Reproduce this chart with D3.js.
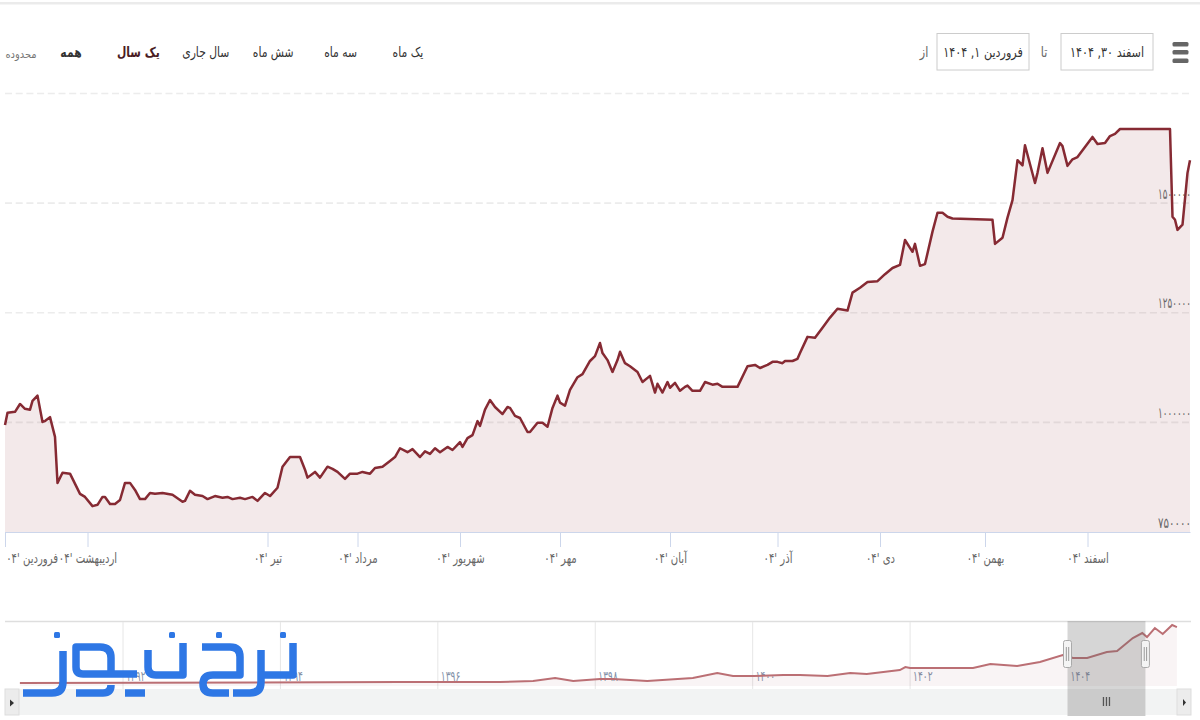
<!DOCTYPE html>
<html>
<head>
<meta charset="utf-8">
<script src="https://cdn.jsdelivr.net/npm/d3@7"></script>
<style>
html, body { margin: 0; padding: 0; background: #fff; overflow: hidden; }
text { font-family: "DejaVu Sans", sans-serif; }
.month text { fill: #666; font-size: 14px; }
.price text { fill: #666; font-size: 15px; }
.btn { font-size: 14px; fill: #333; }
</style>
</head>
<body>
<script>
// sessions along the main axis (ordinal, so not calendar days)
const sessions = [0,1,4,6,8,10,11,13,15,16,18,20,21,23,26,30,32,35,37,39,40,42,44,46,48,50,52,54,56,58,60,63,67,71,72,74,76,79,81,84,87,89,91,94,96,99,101,104,106,109,111,114,118,120,121,124,126,129,131,133,136,138,141,143,146,148,151,154,156,158,161,163,166,168,170,172,174,177,179,182,183,185,187,189,190,192,194,196,199,201,202,204,206,209,210,213,215,217,219,221,222,224,226,227,229,231,234,236,238,239,241,243,245,246,248,250,253,255,258,260,261,263,265,266,268,270,272,273,275,278,280,283,285,287,293,297,300,302,305,307,309,311,312,315,317,318,321,324,327,330,333,337,339,342,345,349,352,355,358,360,363,364,366,368,371,373,375,377,379,395,396,399,401,403,405,407,408,412,413,415,417,422,423,425,427,429,435,437,440,442,444,446,466,467,468,469,471,473,474];
// price in thousands
const prices = [994,1022,1024,1042,1031,1029,1049,1061,1001,1003,1012,967,862,885,883,837,830,809,812,830,830,814,814,823,862,862,846,825,825,839,837,839,835,819,821,844,835,832,825,832,828,830,825,828,825,830,821,839,832,851,899,921,921,892,874,887,874,899,894,887,871,883,883,887,883,896,899,912,921,941,932,939,921,934,928,941,932,944,937,955,944,964,971,1003,992,1029,1051,1035,1019,1035,1033,1015,1010,978,978,999,999,990,1033,1061,1045,1038,1074,1084,1103,1110,1140,1151,1181,1158,1142,1115,1142,1161,1135,1128,1115,1092,1106,1068,1088,1068,1092,1079,1090,1072,1081,1084,1072,1072,1092,1086,1088,1081,1081,1128,1131,1124,1131,1138,1138,1135,1140,1140,1145,1158,1195,1193,1216,1239,1259,1255,1296,1307,1320,1322,1338,1352,1359,1416,1389,1407,1357,1361,1435,1478,1478,1469,1465,1462,1407,1421,1467,1507,1598,1586,1632,1546,1569,1625,1569,1637,1630,1585,1600,1605,1651,1635,1637,1653,1658,1669,1669,1469,1462,1439,1451,1569,1598];

const monthTicks = [0,33,105,141,182,222,266,309,350,392,433];
const monthLabels = ["فروردین '۰۴","اردیبهشت '۰۴","تیر '۰۴","مرداد '۰۴","شهریور '۰۴","مهر '۰۴","آبان '۰۴","آذر '۰۴","دی '۰۴","بهمن '۰۴","اسفند '۰۴"];
const priceTicks = [750,1000,1250,1500];
const priceLabels = ["۷۵۰۰۰۰","۱۰۰۰۰۰۰","۱۲۵۰۰۰۰","۱۵۰۰۰۰۰"];
const gridTicks = [1000,1250,1500,1750];

// navigator, whole history
const navYears = [1390.69,1395.52,1396.79,1397.21,1397.49,1397.72,1398.06,1398.23,1398.66,1399.24,1399.55,1399.75,1400.01,1400.39,1400.6,1400.95,1401.24,1401.45,1401.87,1401.94,1402,1402.42,1402.8,1403.02,1403.36,1403.65,1403.94,1404.07,1404.25,1404.5,1404.63,1404.83,1404.95,1405.01,1405.11,1405.21,1405.33,1405.39];
const navPrices = [372,394,394,417,484,417,461,461,417,484,596,529,529,551,551,529,596,574,663,730,708,708,708,797,753,842,999,932,932,1066,1089,1380,1492,1402,1604,1470,1671,1626];
const navTicks = [1392,1394,1396,1398,1400,1402,1404];
const navLabels = ["۱۳۹۲","۱۳۹۴","۱۳۹۶","۱۳۹۸","۱۴۰۰","۱۴۰۲","۱۴۰۴"];

const rangeButtons = ["یک ماه","سه ماه","شش ماه","سال جاری","یک سال","همه"];
const selectedYears = [1404, 1404.99];

const svg = d3.select('body').append('svg')
    .attr('width', 1200)
    .attr('height', 720)
    .style('display', 'block');

const x = d3.scaleLinear().domain([0, 474]).range([5, 1190]);
const y = d3.scaleLinear().domain([750, 1750]).range([532, 93.5]);
const navX = d3.scaleLinear().domain([1392, 1404]).range([123, 1067.5]);
const navY = d3.scaleLinear().domain([0, 1672]).range([699.6, 625]);
const points = sessions.map((s, i) => [s, prices[i]]);
const navPoints = navYears.map((s, i) => [s, navPrices[i]]);

// the lettering in the image is tall and narrow
function squeeze(sel, factor) {
    sel.each(function() {
        const ax = +this.getAttribute('x') || 0;
        d3.select(this).attr('transform', `translate(${ax * (1 - factor)},0) scale(${factor},1)`);
    });
}

svg.append('rect').attr('x', 0).attr('y', 2).attr('width', 1200).attr('height', 2.5).attr('fill', '#ebebeb');

// grid first, the area is see through
svg.selectAll('.grid').data(gridTicks).enter().append('line')
    .attr('class', 'grid')
    .attr('x1', 5).attr('x2', 1190)
    .attr('y1', d => y(d)).attr('y2', d => y(d))
    .attr('stroke', '#ececec')
    .attr('stroke-width', 1.6)
    .attr('stroke-dasharray', '7,3.7');

svg.append('path').datum(points)
    .attr('fill', 'rgba(139,38,53,0.1)')
    .attr('d', d3.area().x(d => x(d[0])).y0(y(750)).y1(d => y(d[1])));
svg.append('path').datum(points)
    .attr('fill', 'none')
    .attr('stroke', '#862a33')
    .attr('stroke-width', 2.5)
    .attr('stroke-linejoin', 'round')
    .attr('d', d3.line().x(d => x(d[0])).y(d => y(d[1])));

// month axis
const xAxis = svg.append('g')
    .attr('class', 'month')
    .attr('transform', `translate(0,${y(750)})`)
    .call(d3.axisBottom(x).tickValues(monthTicks).tickFormat((d, i) => monthLabels[i]).tickSize(15).tickSizeOuter(0));
xAxis.selectAll('line, path').attr('stroke', '#ccd6eb');
xAxis.selectAll('text').attr('x', 0).attr('y', 31).attr('dy', 0).attr('direction', 'rtl').call(squeeze, 0.72);
xAxis.select('.tick text').attr('text-anchor', 'end').attr('dx', 1);

// price labels sit above their grid line
const yAxis = svg.append('g')
    .attr('class', 'price')
    .attr('transform', 'translate(1191,0)')
    .call(d3.axisLeft(y).tickValues(priceTicks).tickFormat((d, i) => priceLabels[i]).tickSize(0));
yAxis.select('.domain').remove();
yAxis.selectAll('text').attr('x', 0).attr('y', -5).attr('dy', 0).attr('text-anchor', 'end')
    .each(function() {
        d3.select(this).attr('transform', `scale(${33 / this.getComputedTextLength()},1)`);
    });

// range selector
const buttonX = d3.scalePoint().domain(rangeButtons).range([408, 71]);
svg.selectAll('.btn').data(rangeButtons).enter().append('text')
    .attr('class', 'btn')
    .attr('x', d => buttonX(d))
    .attr('y', 57)
    .attr('text-anchor', 'middle')
    .attr('font-weight', d => (d == "یک سال" || d == "همه") ? 'bold' : 'normal')
    .style('fill', d => d == "یک سال" ? '#4a1c24' : '#333')
    .text(d => d)
    .call(squeeze, 0.77);
svg.append('text').text('محدوده').attr('x', 21).attr('y', 58).attr('text-anchor', 'middle').attr('font-size', 11).attr('fill', '#777').call(squeeze, 0.9);

// date inputs
function dateBox(left, label) {
    svg.append('rect').attr('x', left).attr('y', 33.5).attr('width', 92).attr('height', 36.5)
        .attr('fill', '#fff').attr('stroke', '#ccc');
    svg.append('text').text(label).attr('x', left + 46).attr('y', 57).attr('text-anchor', 'middle')
        .attr('direction', 'rtl').attr('font-size', 14).attr('fill', '#333').call(squeeze, 0.8);
}
dateBox(1061, 'اسفند ۳۰, ۱۴۰۴');
dateBox(937, 'فروردین ۱, ۱۴۰۴');
svg.append('text').text('تا').attr('x', 1044).attr('y', 57).attr('text-anchor', 'middle').attr('font-size', 14).attr('fill', '#666').call(squeeze, 0.8);
svg.append('text').text('از').attr('x', 924).attr('y', 57).attr('text-anchor', 'middle').attr('font-size', 14).attr('fill', '#666').call(squeeze, 0.8);

// menu icon
[42, 50, 58.5].forEach(t => {
    svg.append('rect').attr('x', 1172.5).attr('y', t).attr('width', 16).attr('height', 4.5).attr('rx', 1.5).attr('fill', '#666');
});

// navigator
svg.append('rect').attr('x', 5).attr('y', 689).attr('width', 1186).attr('height', 26).attr('fill', '#f2f3f3');
svg.append('line').attr('x1', 5).attr('x2', 1191).attr('y1', 621.5).attr('y2', 621.5).attr('stroke', '#dedede').attr('stroke-width', 1.6);
svg.selectAll('.navgrid').data(navTicks.slice(0, 6)).enter().append('line')
    .attr('class', 'navgrid')
    .attr('x1', d => navX(d)).attr('x2', d => navX(d))
    .attr('y1', 622).attr('y2', 689)
    .attr('stroke', '#e6e6e6');
svg.selectAll('.navlabel').data(navTicks).enter().append('text')
    .attr('class', 'navlabel')
    .attr('x', d => navX(d) + 3)
    .attr('y', 681)
    .attr('font-size', 14)
    .attr('fill', '#8492a8')
    .text((d, i) => navLabels[i])
    .call(squeeze, 0.65);
svg.append('path').datum(navPoints)
    .attr('fill', 'rgba(139,38,53,0.05)')
    .attr('d', d3.area().x(d => navX(d[0])).y0(686).y1(d => navY(d[1])));
svg.append('path').datum(navPoints)
    .attr('fill', 'none')
    .attr('stroke', '#bb6f74')
    .attr('stroke-width', 2)
    .attr('d', d3.line().x(d => navX(d[0])).y(d => navY(d[1])));

// selected window
const selLeft = navX(selectedYears[0]), selRight = navX(selectedYears[1]);
svg.append('rect').attr('x', selLeft).attr('y', 621).attr('width', selRight - selLeft).attr('height', 68)
    .attr('fill', 'rgba(102,102,102,0.27)');
svg.append('rect').attr('x', selLeft).attr('y', 689).attr('width', selRight - selLeft).attr('height', 27).attr('fill', '#cbcbcb');
[-3, 0, 3].forEach(d => {
    svg.append('line').attr('x1', (selLeft + selRight) / 2 + d).attr('x2', (selLeft + selRight) / 2 + d)
        .attr('y1', 697).attr('y2', 706).attr('stroke', '#555').attr('stroke-width', 1.3);
});
[selLeft, selRight].forEach(h => {
    svg.append('rect').attr('x', h - 4).attr('y', 640.5).attr('width', 8).attr('height', 27).attr('rx', 2)
        .attr('fill', '#f4f4f4').attr('stroke', '#aaa');
    [-1.2, 1.2].forEach(d => {
        svg.append('line').attr('x1', h + d).attr('x2', h + d).attr('y1', 647).attr('y2', 661).attr('stroke', '#999');
    });
});

// scrollbar buttons
[[5, 14, '14,703 10,699.5 10,706.5'], [1177, 14, '1186,702.5 1183,699 1183,706']].forEach(b => {
    svg.append('rect').attr('x', b[0]).attr('y', 689).attr('width', b[1]).attr('height', 26)
        .attr('fill', '#ececec').attr('stroke', '#ddd');
    svg.append('polygon').attr('points', b[2]).attr('fill', '#333');
});

// site logo, drawn as strokes like the lettering in the image
const logo = svg.append('g').attr('fill', 'none').attr('stroke', '#2e77e5').attr('stroke-width', 7.5).attr('stroke-linejoin', 'round');
logo.append('path').attr('d', 'M23,693 H52 Q63,693 63,682 V651');
logo.append('path').attr('d', 'M111,672 V658 Q111,647 100,647 H76 V667 Q76,674 83,674 H137');
logo.append('path').attr('d', 'M76,693 H103 Q111,693 111,685');
logo.append('path').attr('d', 'M125,693 H145');
logo.append('path').attr('d', 'M148,650 V667 Q148,675 156,675 H183 V643');
logo.append('path').attr('d', 'M202,647 H230 Q240,647 240,657 V675 H213 Q203,675 203,684 Q203,693 213,693 H229');
logo.append('path').attr('d', 'M233,693 H250 Q261,693 261,682 V650');
logo.append('path').attr('d', 'M261,675 H293 V643');
[57, 172, 219, 283].forEach(d => {
    logo.append('rect').attr('x', d - 3).attr('y', 632).attr('width', 6).attr('height', 6).attr('rx', 1.5)
        .attr('fill', '#2e77e5').attr('stroke', 'none');
});
</script>
</body>
</html>
